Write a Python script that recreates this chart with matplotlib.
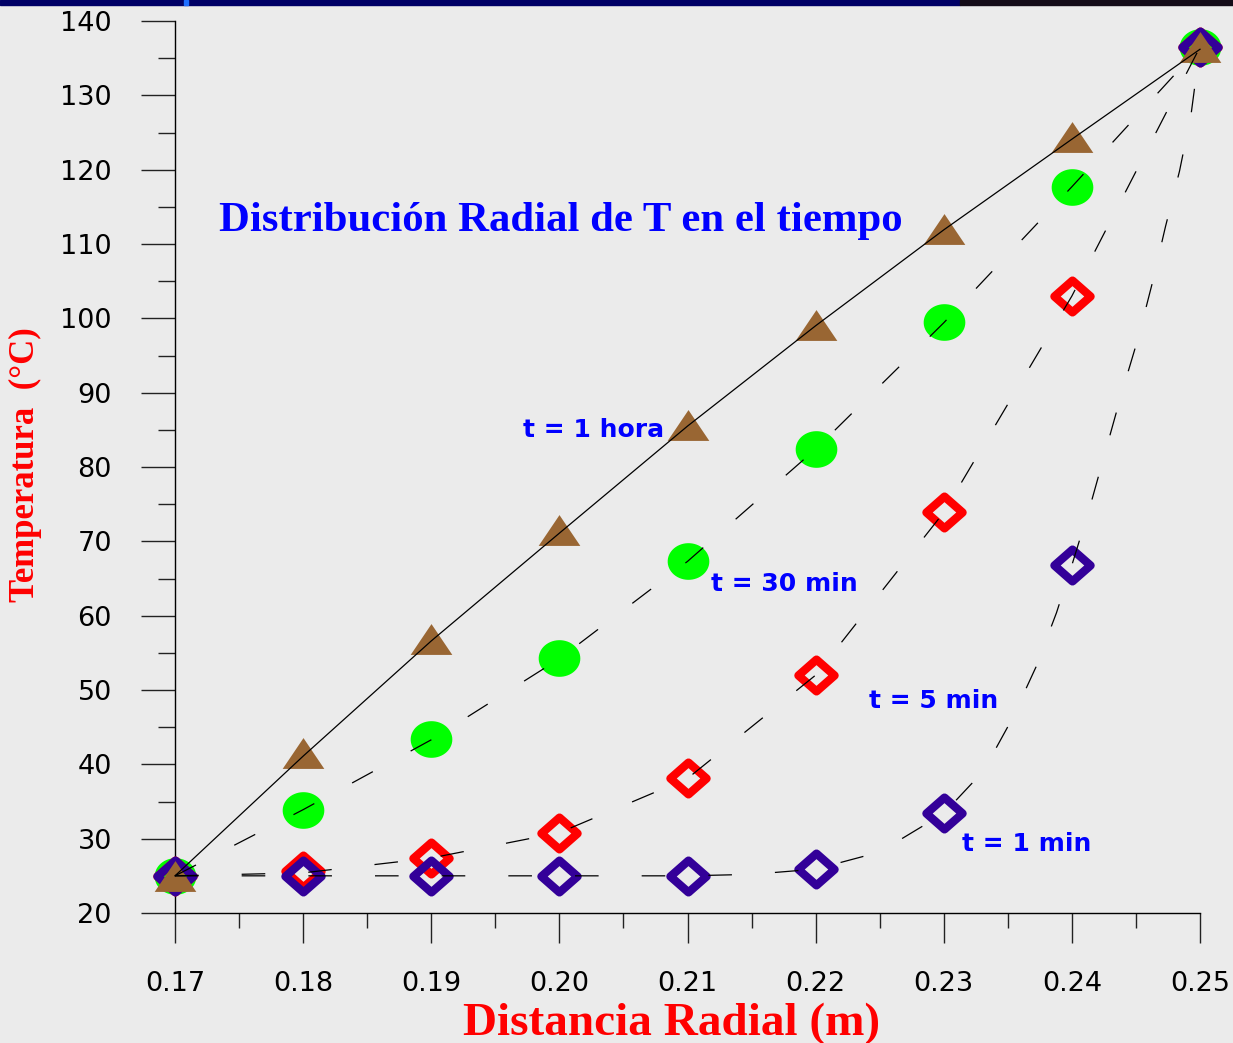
import numpy as np
import matplotlib.pyplot as plt
from matplotlib.path import Path
from matplotlib.markers import MarkerStyle
from matplotlib.patches import Rectangle
from matplotlib.ticker import MultipleLocator, FormatStrFormatter

plt.rcParams['lines.scale_dashes'] = False

# radios medidos (m)
radio = [0.17, 0.18, 0.19, 0.20, 0.21, 0.22, 0.23, 0.24, 0.25]

# temperaturas (°C) en cada radio para cada tiempo
temp_1hora = [25.0, 41.5, 56.9, 71.5, 85.7, 99.1, 112.0, 124.4, 136.5]
temp_30min = [25.0, 33.9, 43.4, 54.3, 67.3, 82.4, 99.5, 117.7, 136.5]
temp_5min = [25.0, 25.7, 27.4, 30.8, 38.1, 52.0, 73.9, 103.0, 136.5]
temp_1min = [25.0, 25.0, 25.0, 25.0, 25.0, 25.9, 33.4, 66.8, 136.5]

# curvas de ajuste
ajuste_1hora = [25.0, 41.1, 56.6, 71.1, 85.5, 99.0, 111.9, 124.1, 136.2]
ajuste_30min = [25.0, 33.9, 43.3, 54.2, 67.3, 82.4, 99.4, 117.7, 136.5]
ajuste_5min = [25.0, 25.4, 27.4, 30.8, 38.1, 52.0, 73.9, 103.0, 136.5]
radio_1min = [0.17, 0.18, 0.19, 0.20, 0.21, 0.215, 0.22, 0.225, 0.23, 0.2331,
              0.2353, 0.2372, 0.2388, 0.24, 0.2415, 0.2427, 0.2439, 0.2452,
              0.2463, 0.2473, 0.2484, 0.2493, 0.25]
ajuste_1min = [25.0, 25.0, 25.0, 25.0, 25.0, 25.2, 25.9, 28.2, 33.4, 39.1,
               46.0, 53.1, 60.4, 66.8, 75.2, 82.6, 90.0, 97.5,
               104.9, 112.3, 119.8, 127.4, 136.5]

etiquetas = ['t = 1 hora', 't = 30 min', 't = 5 min', 't = 1 min']
pos_etiquetas = [(0.1972, 85.0), (0.2118, 64.2), (0.2242, 48.5), (0.2314, 29.3)]

fondo = '#ebebeb'

# marcadores: triangulo achatado, elipse y rombo
triangulo = MarkerStyle(Path([(-1, -0.74), (1, -0.74), (0, 0.74), (-1, -0.74)], closed=True),
                        joinstyle='miter')
ang = np.linspace(0, 2 * np.pi, 60)
elipse = MarkerStyle(Path(np.column_stack([np.cos(ang), 0.88 * np.sin(ang)]), closed=True))
rombo = MarkerStyle(Path([(0, 0.88), (1, 0), (0, -0.88), (-1, 0), (0, 0.88)], closed=True),
                    joinstyle='miter')

fig = plt.figure(figsize=(12.33, 10.43), dpi=100, facecolor=fondo)
ax = fig.add_axes([175 / 1233, 1 - 913 / 1043, 1025 / 1233, 892 / 1043])
ax.set_facecolor(fondo)

ax.plot(radio, temp_30min, ls='none', marker=elipse, ms=30, mfc='#00ff00', mec='none',
        zorder=3, clip_on=False)
ax.plot(radio, temp_5min, ls='none', marker=rombo, ms=26, mfc='none', mec='#ff0000',
        mew=6, zorder=4, clip_on=False)
ax.plot(radio, temp_1min, ls='none', marker=rombo, ms=26, mfc='none', mec='#330099',
        mew=6, zorder=5, clip_on=False)
ax.plot(radio, temp_1hora, ls='none', marker=triangulo, ms=30, mfc='#996633', mec='none',
        zorder=6, clip_on=False)

ax.plot(radio, ajuste_1hora, color='black', lw=0.9, zorder=7, clip_on=False)
for xs, ys in [(radio, ajuste_30min), (radio, ajuste_5min), (radio_1min, ajuste_1min)]:
    ax.plot(xs, ys, color='black', lw=0.9, dashes=(17, 31), zorder=7, clip_on=False)

for txt, (x, y) in zip(etiquetas, pos_etiquetas):
    ax.text(x, y, txt, color='#0000ff', fontsize=18, fontweight='bold',
            family='DejaVu Sans', ha='left', va='center', zorder=8)

ax.text(0.1734, 113.05, 'Distribución Radial de T en el tiempo', color='#0000ff',
        fontsize=30.8, fontweight='bold', family='Liberation Serif', ha='left', va='center')

ax.set_xlim(0.17, 0.25)
ax.set_ylim(20, 140)
for lado in ['top', 'right']:
    ax.spines[lado].set_visible(False)
for lado in ['left', 'bottom']:
    ax.spines[lado].set_linewidth(1.0)

ax.xaxis.set_major_locator(MultipleLocator(0.01))
ax.xaxis.set_minor_locator(MultipleLocator(0.005))
ax.xaxis.set_major_formatter(FormatStrFormatter('%.2f'))
ax.yaxis.set_major_locator(MultipleLocator(10))
ax.yaxis.set_minor_locator(MultipleLocator(5))

ax.tick_params(axis='x', which='major', length=21.5, width=1, color='#222222', pad=20,
               labelsize=19.5)
ax.tick_params(axis='x', which='minor', length=11, width=1, color='#222222')
ax.tick_params(axis='y', which='major', length=24.5, width=1, color='#222222', pad=21,
               labelsize=19.5)
ax.tick_params(axis='y', which='minor', length=12, width=1, color='#222222')

fig.text(672 / 1233, 1 - 1024 / 1043, 'Distancia Radial (m)', color='#ff0000', fontsize=34,
         fontweight='bold', family='Liberation Serif', ha='center', va='center')
fig.text(25 / 1233, 1 - 465 / 1043, 'Temperatura  (°C)', color='#ff0000', fontsize=25,
         fontweight='bold', family='Liberation Serif', ha='center', va='center', rotation=90)

# franja superior
fig.patches.append(Rectangle((0, 1 - 5 / 1043), 960 / 1233, 5 / 1043, color='#000066',
                             transform=fig.transFigure, figure=fig))
fig.patches.append(Rectangle((960 / 1233, 1 - 5 / 1043), 273 / 1233, 5 / 1043, color='#140c18',
                             transform=fig.transFigure, figure=fig))
fig.patches.append(Rectangle((184 / 1233, 1 - 5 / 1043), 4 / 1233, 5 / 1043, color='#1e6eff',
                             transform=fig.transFigure, figure=fig))

fig.savefig('out.png', dpi=100, facecolor=fondo)
